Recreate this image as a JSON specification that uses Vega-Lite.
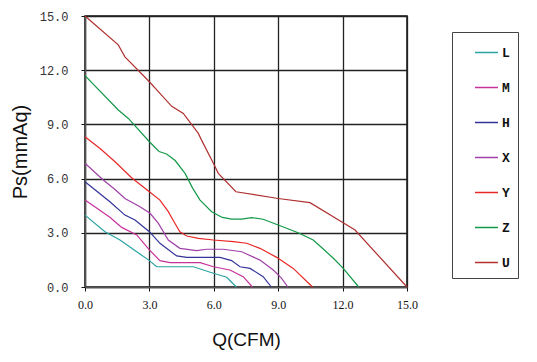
{
  "$schema": "https://vega.github.io/schema/vega-lite/v6.json",
  "width": 322,
  "height": 271,
  "autosize": {"type": "none"},
  "padding": {"left": 85, "top": 16, "right": 130, "bottom": 75},
  "background": "white",
  "config": {
    "view": {"stroke": "#111", "strokeWidth": 1.5},
    "axis": {"grid": true, "gridColor": "#222", "gridWidth": 1.3, "domainColor": "#555", "domainWidth": 1.5, "tickColor": "#111", "tickSize": 4, "titleFont": "Liberation Sans", "titleFontWeight": "normal", "titleFontSize": 19, "titleColor": "#111"}
  },
  "data": {"values": [
    {"s":"U","q":0,"p":15},{"s":"U","q":1.55,"p":13.4},{"s":"U","q":1.86,"p":12.74},{"s":"U","q":3.0,"p":11.36},{"s":"U","q":3.49,"p":10.72},{"s":"U","q":4.04,"p":10.0},{"s":"U","q":4.58,"p":9.61},{"s":"U","q":5.28,"p":8.5},{"s":"U","q":5.43,"p":8.13},{"s":"U","q":5.98,"p":6.85},{"s":"U","q":6.21,"p":6.29},{"s":"U","q":7.03,"p":5.27},{"s":"U","q":9.0,"p":4.9},{"s":"U","q":10.48,"p":4.67},{"s":"U","q":11.95,"p":3.61},{"s":"U","q":12.58,"p":3.15},{"s":"U","q":15,"p":0},
    {"s":"Z","q":0,"p":11.7},{"s":"Z","q":1.55,"p":9.8},{"s":"Z","q":2.02,"p":9.33},{"s":"Z","q":3.0,"p":8.04},{"s":"Z","q":3.45,"p":7.5},{"s":"Z","q":3.8,"p":7.36},{"s":"Z","q":4.2,"p":7.0},{"s":"Z","q":4.66,"p":6.29},{"s":"Z","q":5.0,"p":5.5},{"s":"Z","q":5.36,"p":4.81},{"s":"Z","q":5.9,"p":4.17},{"s":"Z","q":6.4,"p":3.85},{"s":"Z","q":6.83,"p":3.76},{"s":"Z","q":7.3,"p":3.76},{"s":"Z","q":7.76,"p":3.84},{"s":"Z","q":8.3,"p":3.75},{"s":"Z","q":9.0,"p":3.43},{"s":"Z","q":9.93,"p":3.0},{"s":"Z","q":10.63,"p":2.6},{"s":"Z","q":11.1,"p":2.1},{"s":"Z","q":11.57,"p":1.59},{"s":"Z","q":12.03,"p":1.03},{"s":"Z","q":12.75,"p":0},
    {"s":"Y","q":0,"p":8.32},{"s":"Y","q":0.7,"p":7.67},{"s":"Y","q":1.4,"p":6.93},{"s":"Y","q":2.17,"p":6.05},{"s":"Y","q":3.0,"p":5.27},{"s":"Y","q":3.49,"p":4.81},{"s":"Y","q":3.88,"p":4.17},{"s":"Y","q":4.2,"p":3.5},{"s":"Y","q":4.42,"p":3.06},{"s":"Y","q":4.74,"p":2.82},{"s":"Y","q":5.28,"p":2.69},{"s":"Y","q":5.98,"p":2.6},{"s":"Y","q":6.91,"p":2.51},{"s":"Y","q":7.53,"p":2.42},{"s":"Y","q":8.15,"p":2.14},{"s":"Y","q":8.93,"p":1.64},{"s":"Y","q":9.7,"p":1.03},{"s":"Y","q":10.6,"p":0},
    {"s":"X","q":0,"p":6.85},{"s":"X","q":0.85,"p":5.92},{"s":"X","q":1.4,"p":5.4},{"s":"X","q":1.86,"p":4.9},{"s":"X","q":2.56,"p":4.44},{"s":"X","q":3.03,"p":4.08},{"s":"X","q":3.42,"p":3.52},{"s":"X","q":3.88,"p":2.6},{"s":"X","q":4.42,"p":2.14},{"s":"X","q":5.2,"p":2.01},{"s":"X","q":5.67,"p":2.09},{"s":"X","q":6.44,"p":2.09},{"s":"X","q":7.3,"p":1.95},{"s":"X","q":8.15,"p":1.49},{"s":"X","q":8.77,"p":0.94},{"s":"X","q":9.16,"p":0.48},{"s":"X","q":9.45,"p":0},
    {"s":"H","q":0,"p":5.83},{"s":"H","q":1.16,"p":4.72},{"s":"H","q":1.86,"p":3.98},{"s":"H","q":2.33,"p":3.71},{"s":"H","q":3.0,"p":3.06},{"s":"H","q":3.49,"p":2.42},{"s":"H","q":4.27,"p":1.72},{"s":"H","q":4.74,"p":1.64},{"s":"H","q":6.29,"p":1.64},{"s":"H","q":6.83,"p":1.46},{"s":"H","q":7.22,"p":1.12},{"s":"H","q":7.69,"p":1.03},{"s":"H","q":8.3,"p":0.57},{"s":"H","q":8.68,"p":0},
    {"s":"M","q":0,"p":4.81},{"s":"M","q":1.16,"p":3.86},{"s":"M","q":1.71,"p":3.3},{"s":"M","q":2.41,"p":2.88},{"s":"M","q":3.0,"p":2.05},{"s":"M","q":3.49,"p":1.46},{"s":"M","q":3.96,"p":1.35},{"s":"M","q":5.36,"p":1.35},{"s":"M","q":5.98,"p":1.12},{"s":"M","q":6.75,"p":0.94},{"s":"M","q":7.37,"p":0.57},{"s":"M","q":7.8,"p":0},
    {"s":"L","q":0,"p":3.98},{"s":"L","q":0.93,"p":3.06},{"s":"L","q":1.63,"p":2.6},{"s":"L","q":3.0,"p":1.46},{"s":"L","q":3.34,"p":1.12},{"s":"L","q":5.05,"p":1.12},{"s":"L","q":5.98,"p":0.76},{"s":"L","q":6.6,"p":0.54},{"s":"L","q":7.05,"p":0}
  ]},
  "mark": {"type": "line", "strokeWidth": 1.2, "interpolate": "linear"},
  "encoding": {
    "x": {"field": "q", "type": "quantitative", "scale": {"domain": [0, 15], "nice": false, "zero": true},
      "axis": {"title": "Q(CFM)", "values": [0, 3, 6, 9, 12, 15], "format": ".1f", "labelFont": "Liberation Serif", "labelFontSize": 12, "labelColor": "#111", "labelPadding": 8, "titlePadding": 20, "labelFlush": false}},
    "y": {"field": "p", "type": "quantitative", "scale": {"domain": [0, 15], "nice": false},
      "axis": {"title": "Ps(mmAq)", "values": [0, 3, 6, 9, 12, 15], "format": ".1f", "labelFont": "Liberation Mono", "labelFontSize": 12, "labelColor": "#333", "labelPadding": 13, "titlePadding": 9, "titleFontSize": 20, "labelFlush": false}},
    "color": {"field": "s", "type": "nominal",
      "scale": {"domain": ["L", "M", "H", "X", "Y", "Z", "U"], "range": ["#2aa3a3", "#c8329b", "#33339a", "#a040a8", "#e82828", "#139848", "#b03030"]},
      "legend": {"title": null, "orient": "none", "legendX": 367, "legendY": 16, "padding": 8, "symbolOffset": 14, "symbolType": "stroke", "symbolSize": 529, "symbolStrokeWidth": 1.5, "rowPadding": 15, "labelOffset": 3, "labelFont": "Liberation Mono", "labelFontWeight": "bold", "labelFontSize": 13, "labelColor": "#111", "labelExpr": "datum.label + '\u00a0\u00a0'", "strokeColor": "#444", "fillColor": "white"}}
  }
}
